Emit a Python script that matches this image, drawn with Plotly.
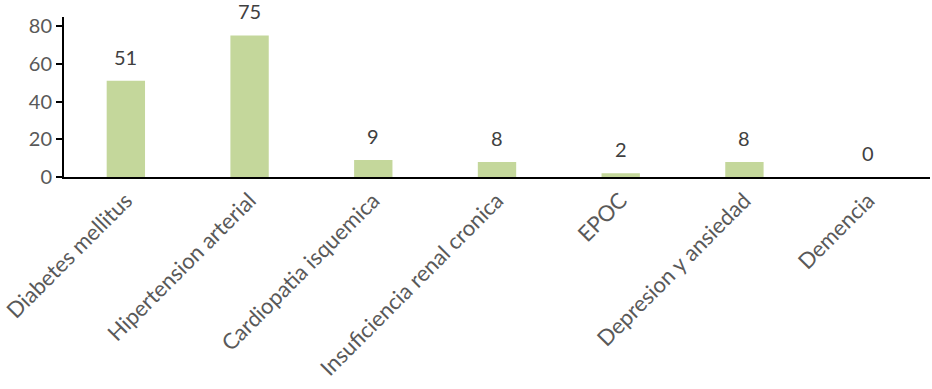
import plotly.graph_objects as go

categories = ["Diabetes mellitus", "Hipertension arterial", "Cardiopatia isquemica",
              "Insuficiencia renal cronica", "EPOC", "Depresion y ansiedad", "Demencia"]
values = [51, 75, 9, 8, 2, 8, 0]
y_ticks = [0, 20, 40, 60, 80]

FONT = "Lato, 'Open Sans', sans-serif"

fig = go.Figure()
fig.add_trace(go.Bar(x=categories, y=values, marker=dict(color="#C4D79B", line=dict(width=0)),
                     width=0.31, hoverinfo="skip"))

for c, v in zip(categories, values):
    fig.add_annotation(x=c, y=v, text=str(v), showarrow=False, yanchor="bottom", yshift=10,
                       font=dict(family=FONT, size=20, color="#404040"))

fig.update_layout(
    width=932, height=389,
    margin=dict(l=64, r=2, t=17, b=212),
    plot_bgcolor="white", paper_bgcolor="white",
    showlegend=False,
    bargap=0.69,
)
fig.update_xaxes(showline=True, linecolor="black", linewidth=2, tickangle=-45,
                 ticks="", tickfont=dict(family=FONT, size=22, color="#595959"),
                 showgrid=False)
fig.update_yaxes(range=[0, 84.8], tickvals=y_ticks, showline=True, linecolor="black", linewidth=2,
                 ticks="outside", ticklen=6, tickcolor="black", tickwidth=1.5,
                 tickfont=dict(family=FONT, size=20, color="#595959"),
                 showgrid=False, zeroline=False)

fig.write_html("out.html")
